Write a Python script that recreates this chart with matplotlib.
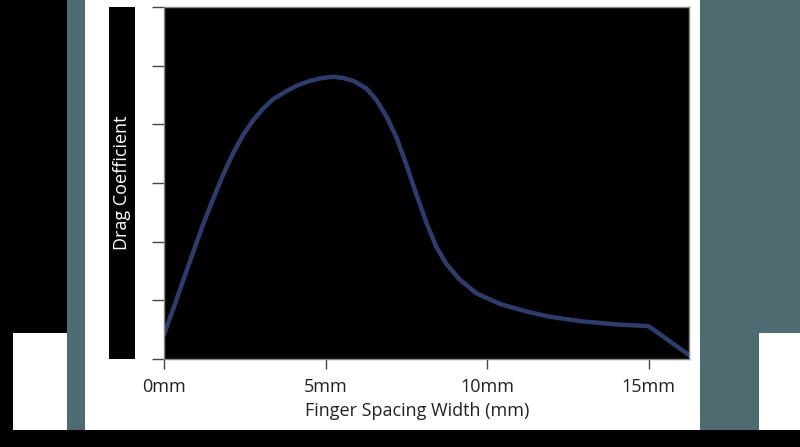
import matplotlib.pyplot as plt
from matplotlib.patches import Rectangle

# curve: spacing (mm) vs drag coefficient (arbitrary units)
spacing = [0.0, 0.29, 0.60, 0.91, 1.22, 1.53, 1.83, 2.14, 2.45, 2.76, 3.07,
           3.38, 3.80, 4.15, 4.52, 4.90, 5.24, 5.55, 5.86, 6.27, 6.58, 6.89,
           7.20, 7.51, 7.82, 8.13, 8.43, 8.74, 9.16, 9.67, 10.39, 11.22,
           11.94, 12.97, 14.0, 15.0, 16.25]
drag = [0.42, 0.86, 1.35, 1.83, 2.31, 2.74, 3.14, 3.51, 3.82, 4.07, 4.27,
        4.43, 4.57, 4.67, 4.74, 4.79, 4.81, 4.79, 4.74, 4.61, 4.41, 4.13,
        3.77, 3.30, 2.79, 2.31, 1.91, 1.62, 1.35, 1.12, 0.94, 0.81,
        0.72, 0.64, 0.59, 0.56, 0.07]
x_ticks = [0, 5, 10, 15]
x_labels = ['0mm', '5mm', '10mm', '15mm']
y_ticks = [0, 1, 2, 3, 4, 5, 6]

W, H = 800, 447
teal = '#506a71'
line_col = '#2f3b6b'

plt.rcParams['font.family'] = ['Open Sans', 'DejaVu Sans']

fig = plt.figure(figsize=(8, 4.47), dpi=100, facecolor='black')


def box(x0, y0, x1, y1, color):
    # pixel box (top-left origin) -> figure coords
    fig.add_artist(Rectangle((x0 / W, 1 - y1 / H), (x1 - x0) / W, (y1 - y0) / H,
                             transform=fig.transFigure, facecolor=color,
                             edgecolor='none', zorder=0))


# background blocks
box(13, 333, 67, 430, 'white')
box(67, 0, 85, 430, teal)
box(85, 0, 700, 430, 'white')
box(700, 0, 800, 430, teal)
box(759, 333, 800, 430, 'white')
box(109, 7, 135, 359, 'black')

fig.text(122 / W, 1 - 183 / H, 'Drag Coefficient', rotation=90, color='white',
         fontsize=13, ha='center', va='center')

ax = fig.add_axes([164 / W, 1 - 359 / H, 525 / W, 352 / H])
ax.set_facecolor('black')
ax.plot(spacing, drag, color=line_col, linewidth=3.2, solid_joinstyle='round')
ax.set_xlim(0, 16.25)
ax.set_ylim(0, 6)

ax.set_xticks(x_ticks)
ax.set_xticklabels(x_labels, fontsize=13, color='#222222')
ax.set_yticks(y_ticks)
ax.set_yticklabels([])
ax.tick_params(axis='x', length=7, width=1, color='#444444', pad=7)
ax.tick_params(axis='y', length=9, width=1, color='#444444')
for s in ax.spines.values():
    s.set_color('#888888')
    s.set_linewidth(1)

ax.set_xlabel('Finger Spacing Width (mm)', fontsize=13, color='#222222')
ax.xaxis.set_label_coords((417 - 164) / 525, -(411 - 359) / 352)
ax.xaxis.label.set_va('center')

fig.savefig('out.png', dpi=100, facecolor='black')
